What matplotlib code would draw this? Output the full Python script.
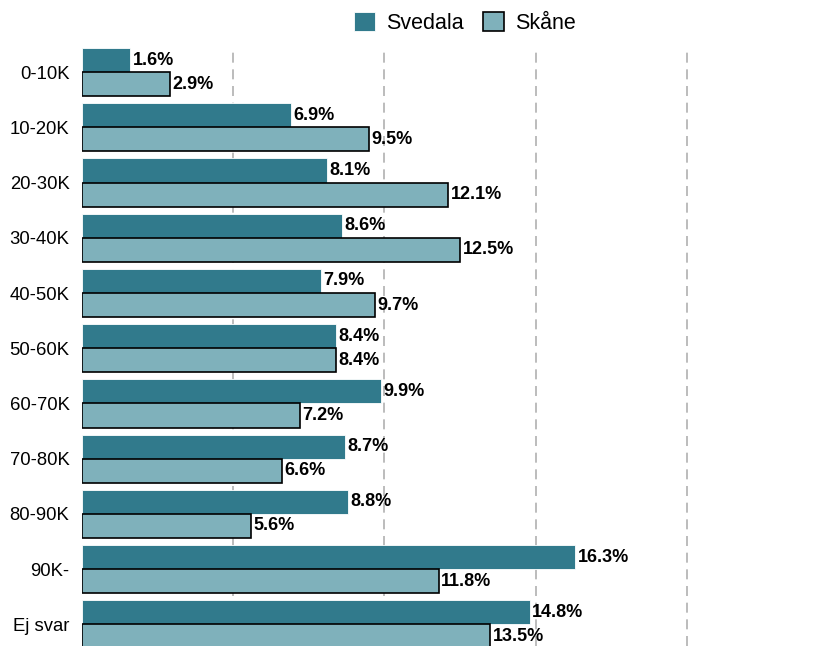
import matplotlib
matplotlib.use("Agg")
import matplotlib.pyplot as plt
import numpy as np

categories = ["0-10K", "10-20K", "20-30K", "30-40K", "40-50K", "50-60K",
              "60-70K", "70-80K", "80-90K", "90K-", "Ej svar"]
svedala = [1.6, 6.9, 8.1, 8.6, 7.9, 8.4, 9.9, 8.7, 8.8, 16.3, 14.8]
skane = [2.9, 9.5, 12.1, 12.5, 9.7, 8.4, 7.2, 6.6, 5.6, 11.8, 13.5]

plt.rcParams["font.family"] = ["Liberation Sans", "DejaVu Sans"]

fig = plt.figure(figsize=(8.27, 6.46), dpi=100)
ax = fig.add_axes([82 / 827, 0.0, 741 / 827, 598 / 646])

y = np.arange(len(categories))
h = 0.435
b1 = ax.barh(y - h / 2, svedala, height=h, color="#317a8c",
             edgecolor="white", linewidth=0.6, label="Svedala", zorder=3)
b2 = ax.barh(y + h / 2, skane, height=h, color="#7fb1bb",
             edgecolor="black", linewidth=1.2, label="Skåne", zorder=3)

for bars, vals in ((b1, svedala), (b2, skane)):
    for bar, v in zip(bars, vals):
        ax.text(bar.get_width() + 0.08, bar.get_y() + bar.get_height() / 2,
                f"{v:.1f}%", va="center", ha="left", fontsize=13,
                fontweight="bold", zorder=4)

ax.set_xlim(0, 24.5)
ax.set_ylim(10.39, -0.435)
ax.set_yticks(y)
ax.set_yticklabels(categories, fontsize=13.3)
ax.set_xticks([5, 10, 15, 20])
ax.tick_params(axis="x", length=0, labelbottom=False)
ax.tick_params(axis="y", length=0, pad=9)
ax.grid(axis="x", linestyle=(0, (6, 4)), color="#b0b0b0", linewidth=1.2, zorder=0)
for s in ax.spines.values():
    s.set_visible(False)

fig.legend(loc="upper center", bbox_to_anchor=(0.562, 1.012), ncol=2,
           frameon=False, fontsize=15.5, handlelength=1.0, handleheight=1.0,
           handletextpad=0.5, columnspacing=0.9)

fig.savefig("out.png", dpi=100)
